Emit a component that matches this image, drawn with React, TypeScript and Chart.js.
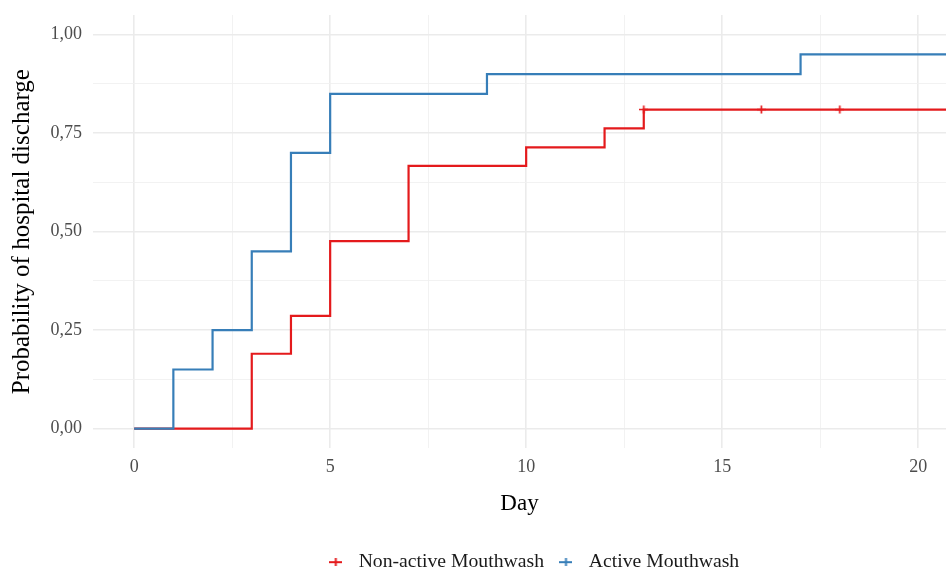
import React, { useEffect, useRef } from 'react';
import { Chart, registerables } from 'chart.js';

Chart.register(...registerables);

// Kaplan-Meier step data (day, cumulative probability of discharge)
const activeDays = [0, 1, 2, 3, 4, 5, 9, 17, 21];
const activeProb = [0, 0.15, 0.25, 0.45, 0.7, 0.85, 0.9, 0.95, 0.95];
const nonActiveDays = [0, 3, 4, 5, 7, 10, 12, 13, 21];
const nonActiveProb = [0, 0.19, 0.286, 0.476, 0.667, 0.714, 0.762, 0.81, 0.81];
// censoring marks (non-active group)
const censorDays = [13, 16, 18];
const censorProb = [0.81, 0.81, 0.81];

const seriesLabels = ['Active Mouthwash', 'Non-active Mouthwash'];
const xMajorTicks = [0, 5, 10, 15, 20];
const yMajorTicks = [0, 0.25, 0.5, 0.75, 1];

const RED = '#E41A1C';
const BLUE = '#377EB8';
const FONT = '"Liberation Serif", "DejaVu Serif", serif';

function makeLegendSymbol(color: string) {
  const c = document.createElement('canvas');
  c.width = 13;
  c.height = 8;
  const g = c.getContext('2d')!;
  g.strokeStyle = color;
  g.lineWidth = 2;
  g.beginPath();
  g.moveTo(0, 4);
  g.lineTo(13, 4);
  g.moveTo(6.5, 0);
  g.lineTo(6.5, 8);
  g.stroke();
  return c;
}

function makeCensorSymbol(color: string) {
  const c = document.createElement('canvas');
  c.width = 9;
  c.height = 9;
  const g = c.getContext('2d')!;
  g.strokeStyle = color;
  g.lineWidth = 1.7;
  g.beginPath();
  g.moveTo(0, 4.5);
  g.lineTo(9, 4.5);
  g.moveTo(4.5, 0.5);
  g.lineTo(4.5, 8.5);
  g.stroke();
  return c;
}

const isMultiple = (v: number, step: number) => Math.abs(v / step - Math.round(v / step)) < 1e-9;

const legendShift = {
  id: 'legendShift',
  afterLayout(chart: any) {
    const l = chart.legend;
    if (l) {
      const dx = 58;
      const dy = 12;
      l.left += dx;
      l.right += dx;
      l.top += dy;
      l.bottom += dy;
    }
  },
};

const zeroPad = (s: any) => {
  s.paddingTop = 0;
  s.paddingBottom = 0;
  s.paddingLeft = 0;
  s.paddingRight = 0;
};

export default function App() {
  const ref = useRef<HTMLCanvasElement | null>(null);

  useEffect(() => {
    if (!ref.current) return;
    const redSym = makeLegendSymbol(RED);
    const blueSym = makeLegendSymbol(BLUE);
    const censorSym = makeCensorSymbol(RED);

    const chart = new Chart(ref.current, {
      type: 'line',
      data: {
        datasets: [
          {
            label: seriesLabels[0],
            data: activeDays.map((d, i) => ({ x: d, y: activeProb[i] })),
            borderColor: BLUE,
            backgroundColor: BLUE,
            borderWidth: 2.2,
            stepped: true,
            pointRadius: 0,
            pointStyle: blueSym as any,
            fill: false,
          },
          {
            label: seriesLabels[1],
            data: nonActiveDays.map((d, i) => ({ x: d, y: nonActiveProb[i] })),
            borderColor: RED,
            backgroundColor: RED,
            borderWidth: 2.2,
            stepped: true,
            pointRadius: 0,
            pointStyle: redSym as any,
            fill: false,
          },
          {
            label: 'censor',
            data: censorDays.map((d, i) => ({ x: d, y: censorProb[i] })),
            borderColor: RED,
            backgroundColor: RED,
            showLine: false,
            pointRadius: 4,
            pointStyle: censorSym as any,
          },
        ],
      },
      options: {
        animation: false,
        responsive: false,
        devicePixelRatio: 1,
        layout: { autoPadding: false, padding: { top: 15, right: 0, bottom: 0, left: 0 } },
        plugins: {
          tooltip: { enabled: false },
          legend: {
            position: 'bottom',
            reverse: true,
            labels: {
              usePointStyle: true,
              pointStyleWidth: 26,
              boxHeight: 8,
              padding: 9,
              color: '#1a1a1a',
              font: { family: FONT, size: 19.7 },
              filter: (item: any) => item.datasetIndex !== 2,
            },
          },
        },
        scales: {
          x: {
            type: 'linear',
            min: -1.05,
            max: 20.71,
            border: { display: false },
            grid: {
              drawTicks: false,
              color: (ctx: any) => (isMultiple(ctx.tick.value, 5) ? '#EBEBEB' : '#F1F1F1'),
              lineWidth: (ctx: any) => (isMultiple(ctx.tick.value, 5) ? 1.6 : 0.9),
            },
            ticks: {
              stepSize: 2.5,
              includeBounds: false,
              autoSkip: false,
              maxRotation: 0,
              padding: 8,
              color: '#4D4D4D',
              font: { family: FONT, size: 18 },
              callback: (v: any) => (xMajorTicks.includes(Number(v)) ? String(v) : ''),
            },
            title: {
              display: true,
              text: 'Day',
              color: '#000',
              font: { family: FONT, size: 23 },
              padding: { top: 0, bottom: 14 },
            },
            afterFit: (s: any) => {
              s.height = 83;
              zeroPad(s);
            },
          },
          y: {
            type: 'linear',
            min: -0.05,
            max: 1.05,
            border: { display: false },
            grid: {
              drawTicks: false,
              color: (ctx: any) => (isMultiple(ctx.tick.value, 0.25) ? '#EBEBEB' : '#F1F1F1'),
              lineWidth: (ctx: any) => (isMultiple(ctx.tick.value, 0.25) ? 1.6 : 0.9),
            },
            ticks: {
              stepSize: 0.125,
              includeBounds: false,
              autoSkip: false,
              padding: 11,
              color: '#4D4D4D',
              font: { family: FONT, size: 18 },
              callback: (v: any) => {
                const n = Number(v);
                return yMajorTicks.some((t) => Math.abs(t - n) < 1e-9) ? n.toFixed(2).replace('.', ',') : '';
              },
            },
            title: {
              display: true,
              text: 'Probability of hospital discharge',
              color: '#000',
              font: { family: FONT, size: 25 },
              padding: { top: 7, bottom: 0 },
            },
            afterFit: (s: any) => {
              s.width = 93;
              zeroPad(s);
            },
          },
        },
      },
      plugins: [legendShift],
    } as any);

    return () => chart.destroy();
  }, []);

  return (
    <div style={{ position: 'fixed', left: 0, top: 0, width: 946, height: 570, background: '#fff' }}>
      <canvas ref={ref} width={946} height={570} style={{ width: 946, height: 570, display: 'block' }} />
    </div>
  );
}
